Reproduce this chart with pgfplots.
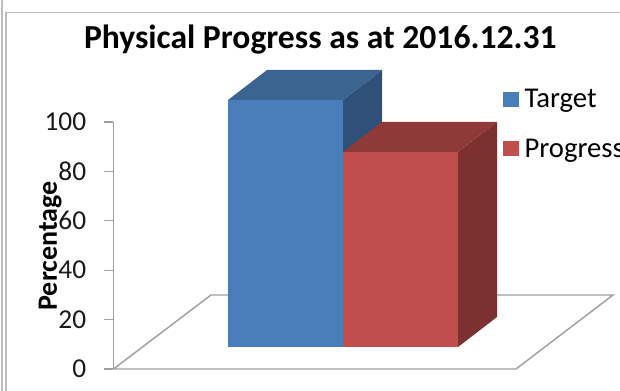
\documentclass[border=0pt]{standalone}
\usepackage{pgfplots}
\pgfplotsset{compat=1.18}
\usepackage{fontspec}
\setmainfont{Carlito}
\definecolor{bfront}{HTML}{4A7EBB}
\definecolor{btop}{HTML}{3C6491}
\definecolor{bside}{HTML}{2F5179}
\definecolor{rfront}{HTML}{BF4E4C}
\definecolor{rtop}{HTML}{8F3A39}
\definecolor{rside}{HTML}{7D3030}
\definecolor{fr}{HTML}{BDBDBD}
\definecolor{gr}{HTML}{A0A0A0}
\begin{document}
\begin{tikzpicture}
\path[use as bounding box] (-85.125pt,-16.5pt) rectangle (379.875pt,276.75pt);
\begin{axis}[
  x=0.75pt, y=1.8525pt,
  xmin=113.5, xmax=613, ymin=0, ymax=100,
  clip=false,
  axis y line=left, axis x line=none,
  y axis line style={-, draw=gr, line width=1.2pt},
  ytick={0,20,40,60,80,100},
  ytick style={draw=gr, line width=1pt},
  tick align=outside,
  major tick length=7pt,
  /pgf/number format/assume math mode=true,
  yticklabel style={font=\fontsize{20.5}{20.5}\selectfont, xshift=-10pt, text=black!90},
  ylabel={Percentage},
  every axis y label/.style={at={(-0.127,0.498)},rotate=90,anchor=center,font=\fontsize{21}{21}\selectfont\bfseries},
  title={Physical Progress as at 2016.12.31},
  title style={at={(0.414,1.30)},anchor=center,yshift=0pt,font=\fontsize{25.2}{25.2}\selectfont\bfseries},
  legend style={at={(axis cs:503,113.8)},anchor=north west,draw=none,fill=none,inner sep=0pt,
     font=\fontsize{21.5}{21.5}\selectfont,row sep=19.75pt,nodes={inner sep=1pt,anchor=west}},
  legend cell align=left,
  legend image code/.code={\fill[#1] (0pt,-5.5pt) rectangle (12pt,6pt);},
]
% frame
\draw[fr,line width=1pt] (axis cs:2,-9) -- (axis cs:2,149.4);
\draw[fr,line width=1pt] (axis cs:6,-9) -- (axis cs:6,144.2) -- (axis cs:621,144.2);
% floor
\addplot[draw=gr,line width=1.1pt,fill=none,forget plot] coordinates {(113.5,0)(211,29.96)(613,29.96)(516,0)(113.5,0)};
% Target
\addplot[draw=none,fill=bside,forget plot] coordinates {(343,108.9)(382,121.05)(382,40)(343,21)} -- cycle;
\addplot[draw=none,fill=btop,forget plot] coordinates {(228,108.9)(267,121.05)(382,121.05)(343,108.9)} -- cycle;
\addplot[draw=none,fill=bfront] coordinates {(228,8.9)(228,108.9)(343,108.9)(343,8.9)} -- cycle;
\addlegendentry{\hspace{3pt}Target}
% Progress
\addplot[draw=none,fill=rside,forget plot] coordinates {(458,8.9)(458,87.9)(497,100.05)(497,21.05)} -- cycle;
\addplot[draw=none,fill=rtop,forget plot] coordinates {(343,87.9)(382,100.05)(497,100.05)(458,87.9)} -- cycle;
\addplot[draw=none,fill=rfront] coordinates {(343,8.9)(343,87.9)(458,87.9)(458,8.9)} -- cycle;
\addlegendentry{\hspace{3pt}Progress}
\end{axis}
\end{tikzpicture}
\end{document}
